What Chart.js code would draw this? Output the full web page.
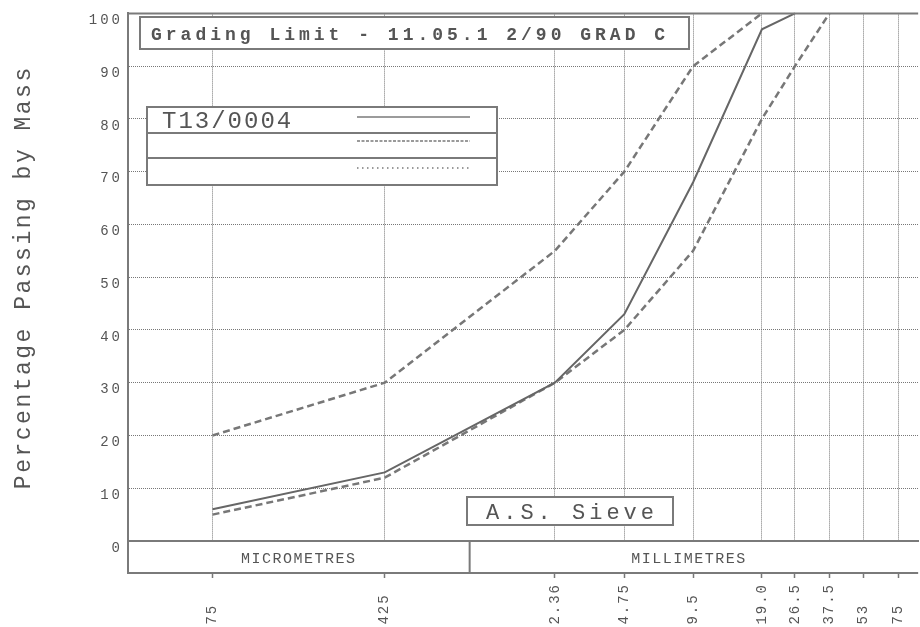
<!DOCTYPE html>
<html>
<head>
<meta charset="utf-8">
<title>Grading Limit</title>
<script src="https://cdn.jsdelivr.net/npm/chart.js@4.4.1/dist/chart.umd.min.js"></script>
<style>
  html, body { margin: 0; padding: 0; background: #fff; }
  #wrap { width: 920px; height: 627px; }
</style>
</head>
<body>
<div id="wrap"><canvas id="grading" width="920" height="627"></canvas></div>
<script>
// sieve sizes in mm, labels as printed under the axis
var sieveSizes  = [0.075, 0.425, 2.36, 4.75, 9.5, 19.0, 26.5, 37.5, 53, 75];
var sieveLabels = ['75', '425', '2.36', '4.75', '9.5', '19.0', '26.5', '37.5', '53', '75'];

// % passing
var testPassing = [6, 13, 30, 43, 68, 97, 100, null, null, null];
var lowerLimit  = [5, 12, 30, 40, 55, 80, 90, 100, null, null];
var upperLimit  = [20, 30, 55, 70, 90, 100, null, null, null, null];

var legendLabels = ['T13/0004', '', ''];
var chartTitle = 'Grading Limit - 11.05.1 2/90 GRAD C';
var sieveTitle = 'A.S. Sieve';
var unitLabels = ['MICROMETRES', 'MILLIMETRES'];
var unitBreak = 1; // micrometres / millimetres split, in mm

var MONO = '"Liberation Mono", "DejaVu Sans Mono", monospace';
var LINE = '#7a7a7a';
var INK = '#555555';

function points(arr) {
  var out = [];
  for (var i in sieveSizes) {
    out.push({x: sieveSizes[i], y: arr[i]});
  }
  return out;
}

function spacedText(ctx, str, x, y, font, spacing, align) {
  ctx.save();
  ctx.font = font;
  ctx.letterSpacing = spacing + 'px';
  ctx.fillStyle = INK;
  ctx.textAlign = align || 'left';
  ctx.textBaseline = 'alphabetic';
  ctx.fillText(str, x, y);
  ctx.restore();
}

function box(ctx, x, y, w, h) {
  ctx.save();
  ctx.fillStyle = '#fff';
  ctx.fillRect(x, y, w, h);
  ctx.strokeStyle = LINE;
  ctx.lineWidth = 2;
  ctx.strokeRect(x, y, w, h);
  ctx.restore();
}

function line(ctx, x1, y1, x2, y2, width, dash) {
  ctx.save();
  ctx.strokeStyle = LINE;
  ctx.lineWidth = width;
  ctx.setLineDash(dash || []);
  ctx.beginPath();
  ctx.moveTo(x1, y1);
  ctx.lineTo(x2, y2);
  ctx.stroke();
  ctx.restore();
}

// wide letter spacing like the old plotter font
function spaced(fn, px) {
  return function () {
    var ctx = this.ctx;
    ctx.save();
    ctx.letterSpacing = px + 'px';
    fn.apply(this, arguments);
    ctx.restore();
  };
}

var spacingPlugin = {
  id: 'spacing',
  beforeDraw: function (chart) {
    var x = chart.scales.x, y = chart.scales.y;
    if (!x._spaced) {
      x.drawLabels = spaced(x.drawLabels, 2);
      x._spaced = true;
    }
    if (!y._spaced) {
      y.drawLabels = spaced(y.drawLabels, 3);
      y.drawTitle = spaced(y.drawTitle, 2.5);
      y._spaced = true;
    }
  }
};

var decorPlugin = {
  id: 'decor',
  afterDraw: function (chart) {
    var ctx = chart.ctx;
    var area = chart.chartArea;
    var xs = chart.scales.x;

    // top frame
    line(ctx, area.left - 1, area.top, area.right, area.top, 2);

    // unit band under the plot
    var bandTop = area.bottom + 1, bandBottom = area.bottom + 32;
    ctx.save();
    ctx.fillStyle = '#fff';
    ctx.fillRect(area.left + 1, bandTop, area.right - area.left, bandBottom - bandTop - 1);
    ctx.restore();
    line(ctx, area.left, area.bottom, area.left, bandBottom + 1, 2);
    line(ctx, area.left, bandBottom, area.right, bandBottom, 2);
    var split = xs.getPixelForValue(unitBreak);
    line(ctx, split, area.bottom, split, bandBottom, 2);
    var unitFont = '15px ' + MONO;
    spacedText(ctx, unitLabels[0], (area.left + split) / 2, bandBottom - 10, unitFont, 1.5, 'center');
    spacedText(ctx, unitLabels[1], (split + area.right) / 2 - 5, bandBottom - 10, unitFont, 1.5, 'center');

    // title box
    box(ctx, 140, 17, 549, 32);
    spacedText(ctx, chartTitle, 151, 40, 'bold 18px ' + MONO, 4);

    // legend box
    box(ctx, 147, 107, 350, 78);
    line(ctx, 147, 133, 497, 133, 2);
    line(ctx, 147, 158, 497, 158, 2);
    spacedText(ctx, legendLabels[0], 162, 128, '24px ' + MONO, 2);
    spacedText(ctx, legendLabels[1], 162, 153, '24px ' + MONO, 2);
    spacedText(ctx, legendLabels[2], 162, 179, '24px ' + MONO, 2);
    line(ctx, 357, 117, 470, 117, 1.5);
    line(ctx, 357, 141, 470, 141, 1.5, [3, 1.5]);
    line(ctx, 357, 168, 470, 168, 1.5, [1.5, 3.5]);

    // sieve box
    box(ctx, 467, 497, 206, 28);
    spacedText(ctx, sieveTitle, 486, 519, '22px ' + MONO, 4);
  }
};

var ctx = document.getElementById('grading');

var gradingChart = new Chart(ctx, {
  type: 'line',
  data: {
    datasets: [
      {
        label: legendLabels[0],
        data: points(testPassing),
        borderColor: '#666666',
        borderWidth: 2,
        pointRadius: 0,
        tension: 0,
        clip: false
      },
      {
        label: 'Lower limit',
        data: points(lowerLimit),
        borderColor: '#777777',
        borderWidth: 2.5,
        borderDash: [7, 4],
        pointRadius: 0,
        tension: 0,
        clip: false
      },
      {
        label: 'Upper limit',
        data: points(upperLimit),
        borderColor: '#777777',
        borderWidth: 2.5,
        borderDash: [7, 4],
        pointRadius: 0,
        tension: 0,
        clip: false
      }
    ]
  },
  options: {
    responsive: false,
    animation: false,
    devicePixelRatio: 1,
    layout: { padding: { top: 8, left: 0, right: 0, bottom: 0 } },
    plugins: {
      legend: { display: false },
      tooltip: { enabled: false }
    },
    scales: {
      x: {
        type: 'logarithmic',
        min: 0.032,
        max: 91.7,
        afterBuildTicks: function (scale) {
          scale.ticks = sieveSizes.map(function (v) { return {value: v}; });
        },
        afterFit: function (scale) { scale.height = 86; },
        ticks: {
          autoSkip: false,
          minRotation: 90,
          maxRotation: 90,
          padding: 5,
          color: INK,
          font: { family: MONO, size: 14 },
          callback: function (value, index) {
            return (sieveLabels[index] || '').padEnd(4, ' ');
          }
        },
        grid: {
          color: '#777777',
          lineWidth: 1,
          tickLength: 37,
          tickColor: '#777777',
          tickWidth: 1.5,
          tickBorderDash: []
        },
        border: { display: true, color: LINE, width: 2, dash: [1, 1] }
      },
      y: {
        min: 0,
        max: 100,
        afterFit: function (scale) { scale.width = 128; },
        ticks: {
          stepSize: 10,
          padding: 5,
          labelOffset: 7,
          color: INK,
          font: { family: MONO, size: 14 }
        },
        grid: {
          color: '#777777',
          lineWidth: 1,
          drawTicks: false
        },
        border: { display: true, color: LINE, width: 2, dash: [1, 1] },
        title: {
          display: true,
          text: 'Percentage Passing by Mass',
          color: INK,
          font: { family: MONO, size: 23 },
          padding: { top: 10, bottom: 0 }
        }
      }
    }
  },
  plugins: [spacingPlugin, decorPlugin]
});
</script>
</body>
</html>
